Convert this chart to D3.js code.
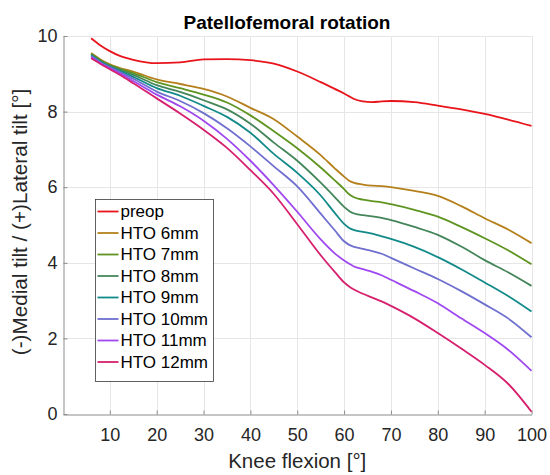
<!DOCTYPE html>
<html>
<head>
<meta charset="utf-8">
<script src="https://cdn.jsdelivr.net/npm/d3@7"></script>
<style>
  html, body { margin: 0; padding: 0; background: #ffffff; }
  svg { display: block; }
  text { font-family: "Liberation Sans", Arial, sans-serif; }
</style>
</head>
<body>
<svg id="chart" width="550" height="475"></svg>
<script>
// Knee flexion angles (degrees) at which tilt was sampled
const flexion = [6, 8, 10, 12, 15, 20, 25, 30, 35, 40, 45, 50, 55, 58, 60, 61, 62, 64, 66, 68, 70, 75, 80, 85, 90, 95, 100];

// Patellar tilt (degrees) for each condition
const preop  = [9.94, 9.75, 9.60, 9.48, 9.37, 9.28, 9.30, 9.38, 9.39, 9.36, 9.27, 9.06, 8.78, 8.60, 8.48, 8.41, 8.34, 8.27, 8.25, 8.27, 8.28, 8.25, 8.16, 8.06, 7.94, 7.79, 7.62];
const hto6   = [9.55, 9.38, 9.25, 9.16, 9.06, 8.85, 8.73, 8.60, 8.40, 8.10, 7.80, 7.34, 6.85, 6.50, 6.28, 6.18, 6.12, 6.07, 6.04, 6.03, 6.00, 5.90, 5.77, 5.50, 5.18, 4.88, 4.52];
const hto7   = [9.53, 9.36, 9.23, 9.14, 9.02, 8.78, 8.62, 8.45, 8.24, 7.90, 7.48, 7.03, 6.52, 6.18, 5.95, 5.82, 5.74, 5.67, 5.63, 5.60, 5.55, 5.40, 5.22, 4.95, 4.65, 4.33, 3.96];
const hto8   = [9.51, 9.34, 9.21, 9.11, 8.97, 8.70, 8.52, 8.30, 8.06, 7.68, 7.18, 6.70, 6.12, 5.74, 5.48, 5.38, 5.31, 5.26, 5.23, 5.19, 5.13, 4.95, 4.74, 4.43, 4.07, 3.75, 3.39];
const hto9   = [9.49, 9.32, 9.19, 9.08, 8.92, 8.62, 8.42, 8.15, 7.86, 7.44, 6.88, 6.38, 5.78, 5.32, 5.03, 4.93, 4.87, 4.82, 4.77, 4.70, 4.63, 4.42, 4.15, 3.83, 3.48, 3.12, 2.71];
const hto10  = [9.47, 9.30, 9.17, 9.05, 8.87, 8.53, 8.28, 7.96, 7.56, 7.08, 6.55, 6.02, 5.30, 4.86, 4.57, 4.48, 4.43, 4.37, 4.31, 4.24, 4.13, 3.85, 3.57, 3.25, 2.90, 2.53, 2.03];
const hto11  = [9.44, 9.28, 9.15, 9.02, 8.81, 8.45, 8.14, 7.76, 7.28, 6.70, 6.05, 5.35, 4.62, 4.25, 4.06, 3.98, 3.91, 3.83, 3.76, 3.67, 3.55, 3.25, 2.93, 2.53, 2.14, 1.70, 1.14];
const hto12  = [9.41, 9.26, 9.12, 8.98, 8.75, 8.35, 7.95, 7.52, 7.04, 6.45, 5.82, 5.02, 4.20, 3.76, 3.48, 3.38, 3.30, 3.18, 3.08, 2.98, 2.86, 2.53, 2.14, 1.73, 1.30, 0.80, 0.06];

const seriesNames  = ["preop", "HTO 6mm", "HTO 7mm", "HTO 8mm", "HTO 9mm", "HTO 10mm", "HTO 11mm", "HTO 12mm"];
const seriesValues = [preop, hto6, hto7, hto8, hto9, hto10, hto11, hto12];
const seriesColors = ["#e8141c", "#b5801c", "#5e9420", "#44865a", "#138a8a", "#6f6fcf", "#a048f0", "#d6206e"];

const xTicks = [10, 20, 30, 40, 50, 60, 70, 80, 90, 100];
const yTicks = [0, 2, 4, 6, 8, 10];

const svg = d3.select("#chart");
const margin = { left: 63, right: 18.5, top: 36, bottom: 61 };
const W = 550, H = 475;

const x = d3.scaleLinear().domain([0, 100]).range([margin.left, W - margin.right]);
const y = d3.scaleLinear().domain([0, 10]).range([H - margin.bottom, margin.top]);

// grid
const grid = svg.append("g").attr("stroke", "#e6e6e6").attr("stroke-width", 1);
grid.selectAll("line.gx").data(xTicks).join("line")
  .attr("x1", d => Math.round(x(d)) + 0.5).attr("x2", d => Math.round(x(d)) + 0.5)
  .attr("y1", y(0)).attr("y2", y(10));
grid.selectAll("line.gy").data(yTicks.filter(d => d > 0)).join("line")
  .attr("y1", d => Math.round(y(d)) + 0.5).attr("y2", d => Math.round(y(d)) + 0.5)
  .attr("x1", x(0)).attr("x2", x(100));

// axes (ticks point inward)
const axisColor = "#8c8c8c";
const xAxis = svg.append("g")
  .attr("transform", `translate(0,${Math.round(y(0)) + 0.5})`)
  .call(d3.axisBottom(x).tickValues(xTicks).tickSizeInner(-4).tickSizeOuter(0).tickPadding(10));
const yAxis = svg.append("g")
  .attr("transform", `translate(${Math.round(x(0)) + 0.5},0)`)
  .call(d3.axisLeft(y).tickValues(yTicks).tickSizeInner(-4).tickSizeOuter(0).tickPadding(6));
[xAxis, yAxis].forEach(g => {
  g.select(".domain").attr("stroke", axisColor);
  g.selectAll(".tick line").attr("stroke", axisColor);
  g.selectAll(".tick text").attr("fill", "#262626")
    .style("font-size", "18px").style("font-family", "'Liberation Sans', Arial, sans-serif");
});
xAxis.selectAll(".tick text").attr("dy", "0.9em");

// lines
const line = d3.line()
  .x((d, i) => x(flexion[i]))
  .y(d => y(d))
  .curve(d3.curveMonotoneX);

svg.append("g").selectAll("path").data(seriesValues).join("path")
  .attr("fill", "none")
  .attr("stroke", (d, i) => seriesColors[i])
  .attr("stroke-width", 1.8)
  .attr("stroke-linejoin", "round")
  .attr("d", d => line(d));

// title and axis labels
svg.append("text")
  .attr("x", 287).attr("y", 29)
  .attr("text-anchor", "middle")
  .style("font-size", "19px").style("font-weight", "bold")
  .attr("fill", "#000")
  .text("Patellofemoral rotation");

svg.append("text")
  .attr("x", (x(0) + x(100)) / 2).attr("y", 468)
  .attr("text-anchor", "middle")
  .style("font-size", "20.5px")
  .attr("fill", "#262626")
  .text("Knee flexion [°]");

svg.append("text")
  .attr("transform", `translate(27,${(y(0) + y(10)) / 2 - 3}) rotate(-90)`)
  .attr("text-anchor", "middle")
  .style("font-size", "20.7px")
  .attr("fill", "#262626")
  .text("(-)Medial tilt / (+)Lateral tilt [°]");

// legend
const lg = { x: 95.5, y: 199.5, w: 118, h: 182, row: 21.5 };
const legend = svg.append("g");
legend.append("rect")
  .attr("x", lg.x).attr("y", lg.y).attr("width", lg.w).attr("height", lg.h)
  .attr("fill", "#ffffff").attr("stroke", "#3a3a3a").attr("stroke-width", 0.8);
const items = legend.selectAll("g.item").data(seriesNames).join("g")
  .attr("transform", (d, i) => `translate(${lg.x},${lg.y + 12 + i * lg.row})`);
items.append("line")
  .attr("x1", 2).attr("x2", 23).attr("y1", 0).attr("y2", 0)
  .attr("stroke", (d, i) => seriesColors[i]).attr("stroke-width", 1.8);
items.append("text")
  .attr("x", 25).attr("y", 0).attr("dy", "0.35em")
  .style("font-size", "17px").attr("fill", "#000")
  .text(d => d);
</script>
</body>
</html>
